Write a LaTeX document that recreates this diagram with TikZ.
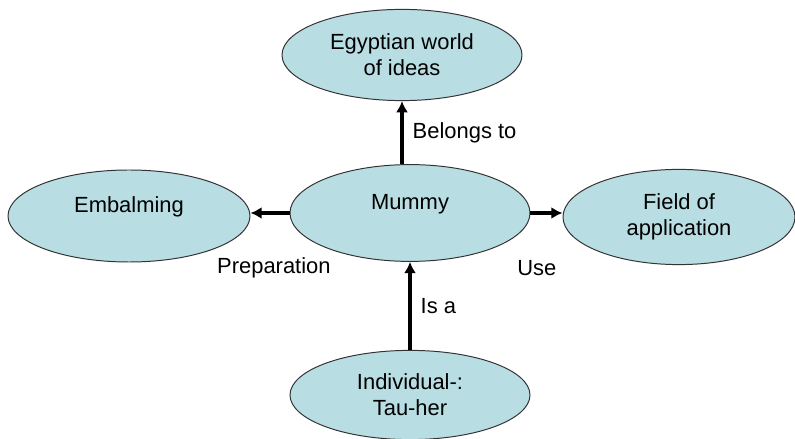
\documentclass[tikz,border=0pt]{standalone}
\usepackage{fontspec}
\setmainfont{Liberation Sans}
\usepackage{xcolor}
\usetikzlibrary{shapes,positioning,arrows.meta}

\definecolor{ideablue}{HTML}{B8DEE3}
\definecolor{rimgray}{HTML}{333333}

\tikzset{
  idea/.style={ellipse, draw=rimgray, line width=0.7pt, fill=ideablue, align=center,
    minimum width=6cm, minimum height=2.3cm, inner sep=0pt},
  oneline/.style={text depth=0.55cm},
  rel/.style={-{Latex[length=2.8mm,width=3mm]}, line width=2.6pt},
}

\begin{document}
\begin{tikzpicture}[font=\fontsize{15.6}{18.5}\selectfont]
  \useasboundingbox (0,0) rectangle (19.875,-10.975);

  \node[idea, minimum height=2.28cm] (egypt) at (10.05,-1.375) {Egyptian world\\of ideas};
  \node[idea, oneline, minimum height=2.42cm] (mummy) at (10.25,-5.325) {Mummy};
  \node[idea, oneline, minimum width=6.05cm] (embalm) at (3.225,-5.4) {Embalming};
  \node[idea, minimum width=5.8cm, minimum height=2.38cm] (field) at (16.975,-5.425) {Field of\\application};
  \node[idea, minimum height=2.23cm] (indiv) at (10.25,-9.875) {Individual-:\\Tau-her};

  % relations
  \draw[rel] (egypt.south |- mummy.north) -- (egypt.south) node[midway, right=3pt] {Belongs to};
  \draw[rel] (mummy.west) -- (mummy.west -| embalm.east) node[pos=0.4, yshift=-1.375cm] {Preparation};
  \draw[rel] (mummy.east) -- (mummy.east -| field.west) node[pos=0.2, yshift=-1.375cm] {Use};
  \draw[rel] (indiv.north) -- (mummy.south) node[midway, right=3pt] {Is a};
\end{tikzpicture}
\end{document}
